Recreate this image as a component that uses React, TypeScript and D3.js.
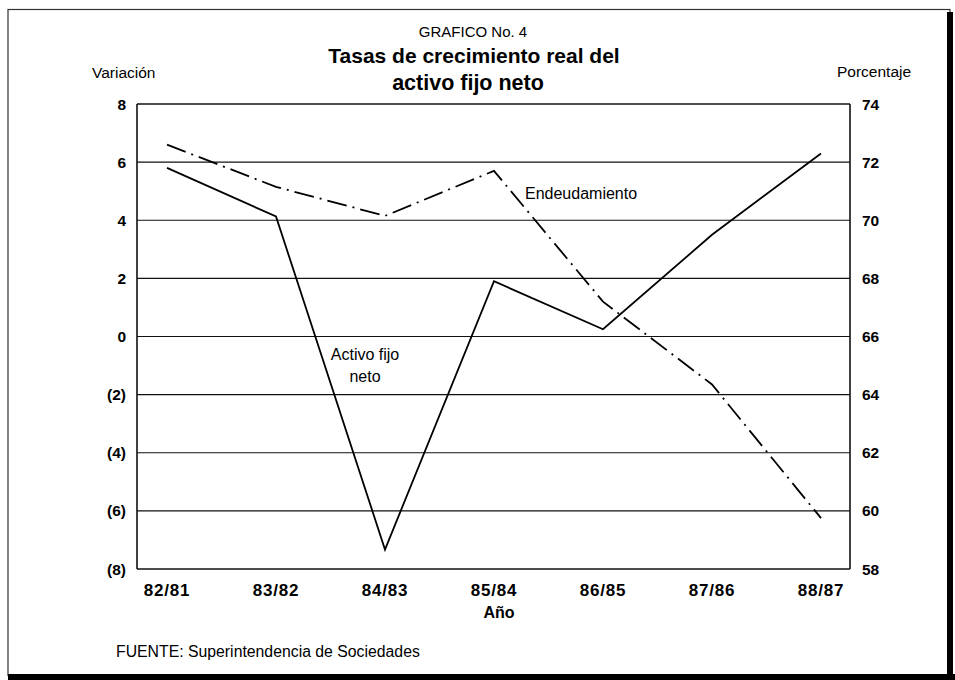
import React from "react";
import * as d3 from "d3";

const categories = ["82/81", "83/82", "84/83", "85/84", "86/85", "87/86", "88/87"];
const activoFijoNeto = [5.8, 4.13, -7.33, 1.9, 0.25, 3.5, 6.3];
const endeudamiento = [72.6, 71.15, 70.15, 71.7, 67.2, 64.35, 59.75];
const leftTicks = [8, 6, 4, 2, 0, -2, -4, -6, -8];
const rightTicks = [74, 72, 70, 68, 66, 64, 62, 60, 58];

const W = 955;
const H = 680;
const plot = { left: 137, right: 850, top: 104, bottom: 569 };
const FONT = "'Liberation Sans', Arial, Helvetica, sans-serif";

export default function App() {
  const x = d3
    .scalePoint<string>()
    .domain(categories)
    .range([plot.left + 30, plot.right - 29]);
  const yL = d3.scaleLinear().domain([-8, 8]).range([plot.bottom, plot.top]);
  const yR = d3.scaleLinear().domain([58, 74]).range([plot.bottom, plot.top]);

  const lineL = d3
    .line<number>()
    .x((_, i) => x(categories[i]) as number)
    .y((d) => yL(d));
  const lineR = d3
    .line<number>()
    .x((_, i) => x(categories[i]) as number)
    .y((d) => yR(d));

  const fmtL = (v: number) => (v < 0 ? `(${Math.abs(v)})` : `${v}`);

  return (
    <svg
      width={W}
      height={H}
      style={{ position: "absolute", left: 0, top: 0, background: "#fff" }}
      fontFamily={FONT}
    >
      <rect x={0} y={0} width={W} height={H} fill="#fff" />
      {/* frame */}
      <rect x={8} y={9.5} width={942} height={666} fill="none" stroke="#333" strokeWidth={1.2} />
      <line x1={950} y1={12} x2={950} y2={680} stroke="#000" strokeWidth={6} />
      <line x1={8} y1={677} x2={955} y2={677} stroke="#000" strokeWidth={6} />

      {/* titles */}
      <text x={473} y={37} textAnchor="middle" fontSize={15} fill="#000">
        GRAFICO No. 4
      </text>
      <text x={474} y={63} textAnchor="middle" fontSize={21} fontWeight="bold" fill="#000">
        Tasas de crecimiento real del
      </text>
      <text x={468} y={90} textAnchor="middle" fontSize={21.5} fontWeight="bold" fill="#000">
        activo fijo neto
      </text>
      <text x={92} y={78} fontSize={15.5} fill="#000">
        Variación
      </text>
      <text x={837} y={77} fontSize={15.5} fill="#000">
        Porcentaje
      </text>

      {/* gridlines */}
      {leftTicks.map((t) => (
        <line
          key={"g" + t}
          x1={plot.left}
          x2={plot.right}
          y1={yL(t)}
          y2={yL(t)}
          stroke="#111"
          strokeWidth={t === 8 || t === -8 ? 1.6 : 1.1}
        />
      ))}
      <line x1={plot.left} x2={plot.left} y1={plot.top} y2={plot.bottom} stroke="#111" strokeWidth={1.6} />
      <line x1={plot.right} x2={plot.right} y1={plot.top} y2={plot.bottom} stroke="#111" strokeWidth={1.6} />

      {/* left ticks */}
      {leftTicks.map((t) => (
        <text
          key={"l" + t}
          x={126}
          y={yL(t)}
          dy="0.36em"
          textAnchor="end"
          fontSize={15.5}
          fontWeight="bold"
          fill="#000"
        >
          {fmtL(t)}
        </text>
      ))}
      {/* right ticks */}
      {rightTicks.map((t) => (
        <text
          key={"r" + t}
          x={862}
          y={yR(t)}
          dy="0.36em"
          textAnchor="start"
          fontSize={15.5}
          fontWeight="bold"
          fill="#000"
        >
          {t}
        </text>
      ))}
      {/* x labels */}
      {categories.map((c) => (
        <text
          key={c}
          x={x(c) as number}
          y={596}
          textAnchor="middle"
          fontSize={17}
          fontWeight="bold"
          letterSpacing={0.8}
          fill="#000"
        >
          {c}
        </text>
      ))}
      <text x={499} y={618} textAnchor="middle" fontSize={16} fontWeight="bold" fill="#000">
        Año
      </text>

      {/* series */}
      <path d={lineL(activoFijoNeto) || ""} fill="none" stroke="#000" strokeWidth={1.8} strokeLinejoin="miter" />
      <path
        d={lineR(endeudamiento) || ""}
        fill="none"
        stroke="#000"
        strokeWidth={1.8}
        strokeDasharray="20,6,2,6"
      />

      {/* series labels */}
      <text x={525} y={199} fontSize={16} fill="#000">
        Endeudamiento
      </text>
      <text x={365} y={360} textAnchor="middle" fontSize={16} fill="#000">
        Activo fijo
      </text>
      <text x={365} y={382} textAnchor="middle" fontSize={16} fill="#000">
        neto
      </text>

      <text x={116} y={657} fontSize={15.8} fill="#000">
        FUENTE: Superintendencia de Sociedades
      </text>
    </svg>
  );
}
